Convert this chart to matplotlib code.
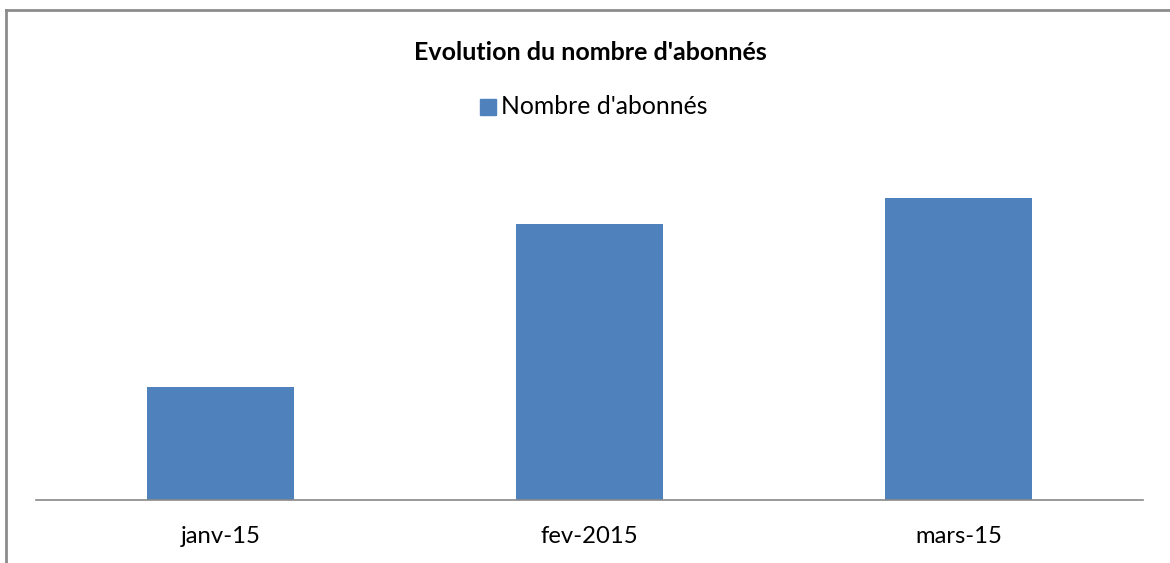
import matplotlib
matplotlib.use("Agg")
import matplotlib.pyplot as plt
from matplotlib.lines import Line2D
from matplotlib.patches import Rectangle

categories = ["janv-15", "fev-2015", "mars-15"]
values = [113, 276, 302]
series_name = "Nombre d'abonnés"
title = "Evolution du nombre d'abonnés"

W, H = 1170, 563
plt.rcParams['font.family'] = ['Lato', 'DejaVu Sans']
fig = plt.figure(figsize=(W/100, H/100), dpi=100)

def fx(px): return px / W
def fy(py): return 1 - py / H

# axes: left 36, right 1143, bottom 500, top 150 px
ax = fig.add_axes([fx(36), fy(500), fx(1143) - fx(36), fy(150) - fy(500)])
color = "#4F81BD"
ax.bar(range(len(categories)), values, width=0.396, color=color)
ax.set_xlim(-0.5, len(categories) - 0.5)
ax.set_ylim(0, 350)
for s in ["top", "right", "left"]:
    ax.spines[s].set_visible(False)
ax.spines["bottom"].set_color("#898989")
ax.spines["bottom"].set_linewidth(1.2)
ax.set_yticks([])
ax.set_xticks(range(len(categories)))
ax.set_xticklabels(categories, fontsize=17.2, color="#000000")
ax.tick_params(axis="x", length=0, pad=19)

fig.text(fx(590), fy(53), title, ha="center", va="center", fontsize=18, fontweight="bold")
fig.patches.append(Rectangle((fx(480), fy(115)), fx(16), fy(99) - fy(115),
                             transform=fig.transFigure, color=color, figure=fig))
fig.text(fx(501), fy(107), series_name, ha="left", va="center", fontsize=17.8)

# outer chart border (top and left visible)
fig.add_artist(Line2D([fx(6), 1.0], [fy(10), fy(10)], color="#8c8c8c", lw=2, transform=fig.transFigure))
fig.add_artist(Line2D([fx(6), fx(6)], [fy(10), 0.0], color="#8c8c8c", lw=2, transform=fig.transFigure))

fig.savefig("out.png", dpi=100)
